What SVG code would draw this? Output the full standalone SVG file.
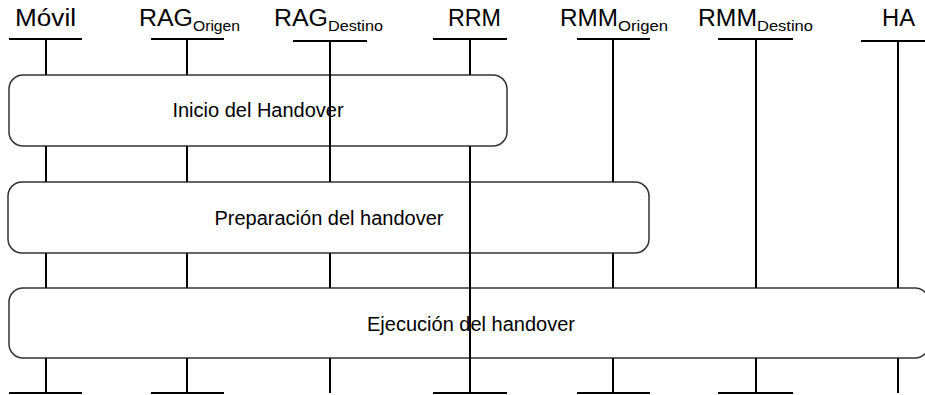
<svg xmlns="http://www.w3.org/2000/svg" width="925" height="395" viewBox="0 0 925 395">
<style>
.lbl{font-family:"Liberation Sans",Arial,sans-serif;font-size:23px;fill:#000}
.sub{font-family:"Liberation Sans",Arial,sans-serif;font-size:14.5px;fill:#000}
.btxt{font-family:"Liberation Sans",Arial,sans-serif;font-size:20px;fill:#000;text-anchor:middle}
.bar{stroke:#000;stroke-width:2;fill:none}
.box{fill:#fff;stroke:#333;stroke-width:1.5}
.life{stroke:#000;stroke-width:2;fill:none}
</style>
<rect width="925" height="395" fill="#fff"/>
<g id="boxes">
<g id="inicio">
<rect class="box" x="9" y="75" width="498" height="71" rx="14"/>
<text class="btxt" x="258" y="117">Inicio del Handover</text>
</g>
<g id="preparacion">
<rect class="box" x="8" y="182" width="641" height="71" rx="14"/>
<text class="btxt" x="329" y="225">Preparación del handover</text>
</g>
<g id="ejecucion">
<rect class="box" x="9" y="288" width="920" height="70" rx="14"/>
<text class="btxt" x="471" y="331">Ejecución del handover</text>
</g>
</g>
<g id="connectors">
<path class="life" d="M46 39V75M46 146V182M46 253V288M46 358V393"/>
<path class="life" d="M187 39V75M187 146V182M187 253V288M187 358V393"/>
<path class="life" d="M330 41V182M330 253V288M330 358V393"/>
<path class="life" d="M470 39V75M470 146V393"/>
<path class="life" d="M613 39V182M613 253V288M613 358V393"/>
<path class="life" d="M756 39V288M756 358V393"/>
<path class="life" d="M898 41V288M898 358V393"/>
</g>
<g id="movil">
<text class="lbl" x="15" y="26" textLength="61" lengthAdjust="spacingAndGlyphs">Móvil</text>
<path class="bar" d="M9 39H82M9 393H82"/>
</g>
<g id="rag-origen">
<text class="lbl" x="139" y="26" textLength="54" lengthAdjust="spacingAndGlyphs">RAG</text>
<text class="sub" x="193" y="31" textLength="47" lengthAdjust="spacingAndGlyphs">Origen</text>
<path class="bar" d="M151 39H224M151 393H224"/>
</g>
<g id="rag-destino">
<text class="lbl" x="274" y="26" textLength="54" lengthAdjust="spacingAndGlyphs">RAG</text>
<text class="sub" x="328" y="31" textLength="55" lengthAdjust="spacingAndGlyphs">Destino</text>
<path class="bar" d="M293 41H367"/>
</g>
<g id="rrm">
<text class="lbl" x="448" y="26" textLength="53" lengthAdjust="spacingAndGlyphs">RRM</text>
<path class="bar" d="M433 39H507M433 393H507"/>
</g>
<g id="rmm-origen">
<text class="lbl" x="560" y="26" textLength="58" lengthAdjust="spacingAndGlyphs">RMM</text>
<text class="sub" x="618" y="31" textLength="50" lengthAdjust="spacingAndGlyphs">Origen</text>
<path class="bar" d="M577 39H650M577 393H650"/>
</g>
<g id="rmm-destino">
<text class="lbl" x="698" y="26" textLength="59" lengthAdjust="spacingAndGlyphs">RMM</text>
<text class="sub" x="757" y="31" textLength="56" lengthAdjust="spacingAndGlyphs">Destino</text>
<path class="bar" d="M718 39H793M718 393H793"/>
</g>
<g id="ha">
<text class="lbl" x="882" y="26" textLength="33" lengthAdjust="spacingAndGlyphs">HA</text>
<path class="bar" d="M861 41H935"/>
</g>
</svg>
